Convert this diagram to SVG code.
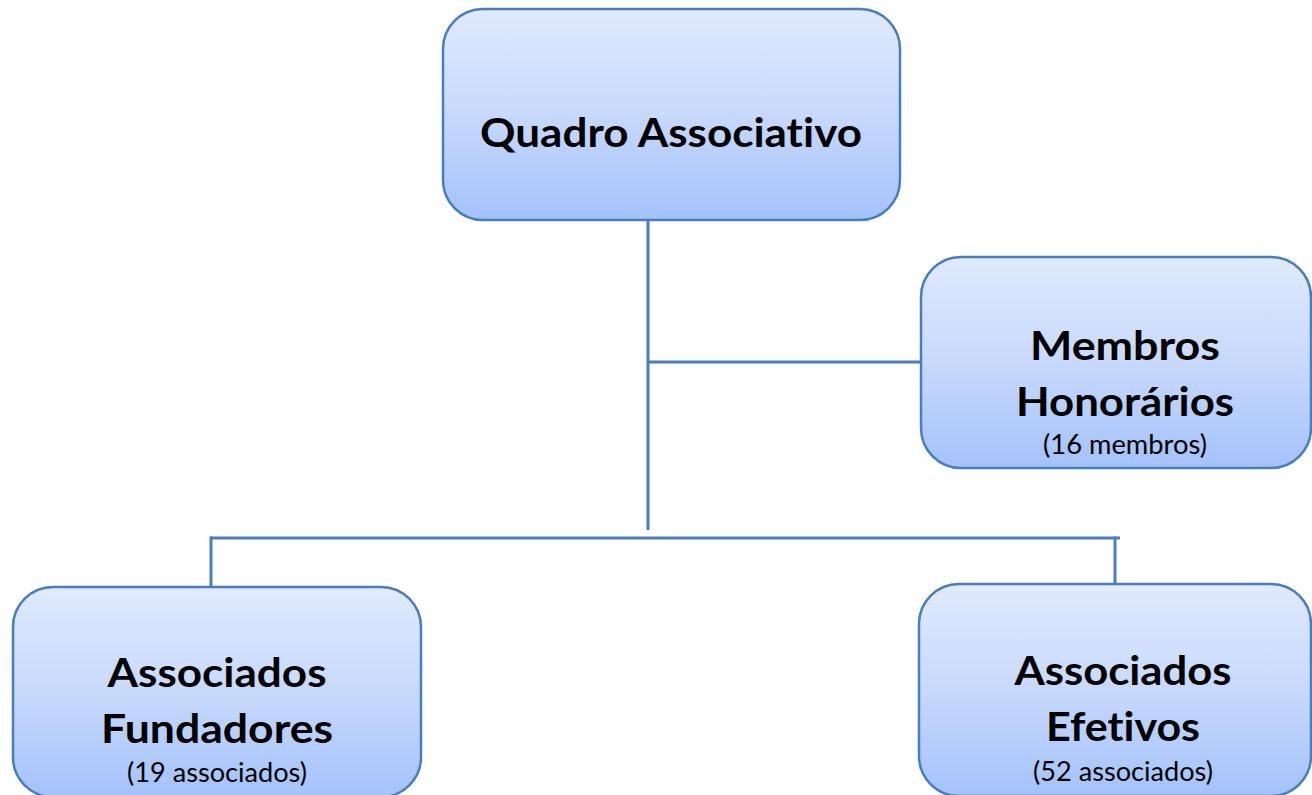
<svg xmlns="http://www.w3.org/2000/svg" width="1312" height="795" viewBox="0 0 1312 795">
<defs>
<linearGradient id="fill" x1="0" y1="0" x2="0" y2="1">
<stop offset="0" stop-color="#e1eafd"/>
<stop offset="0.5" stop-color="#c7d9fc"/>
<stop offset="1" stop-color="#a4c2fb"/>
</linearGradient>
<style>
.box{fill:url(#fill);stroke:#4a7ebb;stroke-width:2.5}
.t{font-family:Lato,"Liberation Sans",sans-serif;font-weight:bold;font-size:41px;fill:#000;text-anchor:middle;font-variant-ligatures:none}
.s{font-family:Lato,"Liberation Sans",sans-serif;font-size:26px;fill:#000;text-anchor:middle;font-variant-ligatures:none}
.c{stroke:#4a7ebb;stroke-width:3;fill:none}
</style>
</defs>
<rect width="1312" height="795" fill="#fff"/>
<g id="connectors">
<line class="c" x1="648" y1="215" x2="648" y2="530"/>
<line class="c" x1="648" y1="362" x2="921" y2="362"/>
<line class="c" x1="210" y1="538" x2="1120" y2="538"/>
<line class="c" x1="211" y1="536.5" x2="211" y2="587"/>
<line class="c" x1="1115" y1="536.5" x2="1115" y2="584"/>
</g>
<g id="quadro">
<rect class="box" x="443" y="9" width="457" height="211" rx="40"/>
<text class="t" x="671" y="147" textLength="382" lengthAdjust="spacingAndGlyphs">Quadro Associativo</text>
</g>
<g id="membros">
<rect class="box" x="921" y="257" width="390" height="211" rx="40"/>
<text class="t" x="1125" y="360" textLength="190" lengthAdjust="spacingAndGlyphs">Membros</text>
<text class="t" x="1125" y="416" textLength="218" lengthAdjust="spacingAndGlyphs">Honorários</text>
<text class="s" x="1125" y="454" textLength="164" lengthAdjust="spacingAndGlyphs">(16 membros)</text>
</g>
<g id="fundadores">
<rect class="box" x="13" y="587" width="408" height="210" rx="40"/>
<text class="t" x="217" y="687" textLength="219" lengthAdjust="spacingAndGlyphs">Associados</text>
<text class="t" x="217" y="743" textLength="232" lengthAdjust="spacingAndGlyphs">Fundadores</text>
<text class="s" x="217" y="782" textLength="180" lengthAdjust="spacingAndGlyphs">(19 associados)</text>
</g>
<g id="efetivos">
<rect class="box" x="919" y="584" width="392" height="212" rx="40"/>
<text class="t" x="1123" y="685" textLength="217" lengthAdjust="spacingAndGlyphs">Associados</text>
<text class="t" x="1123" y="741" textLength="154" lengthAdjust="spacingAndGlyphs">Efetivos</text>
<text class="s" x="1123" y="781" textLength="180" lengthAdjust="spacingAndGlyphs">(52 associados)</text>
</g>
</svg>
